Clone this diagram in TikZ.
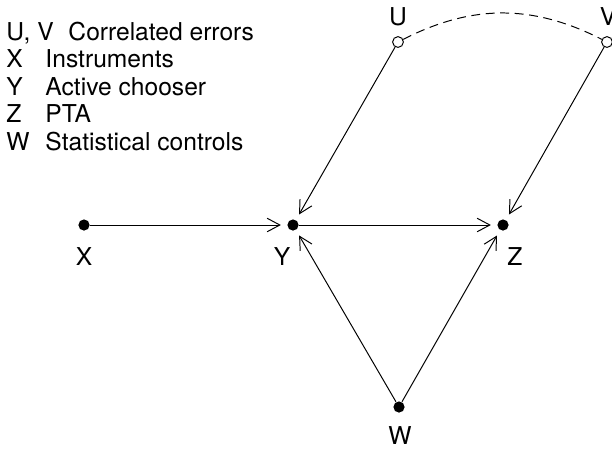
\documentclass[tikz,border=0pt]{standalone}
\usepackage{fontspec}
\setmainfont{TeX Gyre Heros}
\usetikzlibrary{arrows.meta}

\begin{document}
\begin{tikzpicture}[x=0.025cm, y=-0.025cm, line width=0.7pt,
	every node/.style={font=\fontsize{17.5}{21}\selectfont},
	>={Straight Barb[length=3.2mm, width=3.4mm]},
	dot/.style={circle, fill, inner sep=0pt, minimum size=2.8mm},
	err/.style={circle, draw, fill=white, inner sep=0pt, minimum size=2.7mm},
	key/.style={anchor=base west, inner sep=0pt},
	edge/.style={->, shorten >=1.5mm}]
	\useasboundingbox (0,0) rectangle (612,450);
	% legend
	\node[key] (kUV) at (6,40) {U, V};
	\node[key] (tUV) at (68,40) {Correlated errors};
	\node[key] (kX) at (6,67.5) {X};
	\node[key] (tX) at (45,67.5) {Instruments};
	\node[key] (kY) at (6,95) {Y};
	\node[key] (tY) at (45,95) {Active chooser};
	\node[key] (kZ) at (6,122.5) {Z};
	\node[key] (tZ) at (45,122.5) {PTA};
	\node[key] (kW) at (6,150) {W};
	\node[key] (tW) at (45,150) {Statistical controls};
	% variables
	\node[dot] (X) at (84,225) {};
	\node[dot] (Y) at (293,225) {};
	\node[dot] (Z) at (503,225) {};
	\node[dot] (W) at (399,407) {};
	\node[err] (U) at (398,42) {};
	\node[err] (V) at (607,42) {};
	\node (Xlab) at (84,257) {X};
	\node (Ylab) at (282,257) {Y};
	\node (Zlab) at (515,257) {Z};
	\node (Wlab) at (400,436) {W};
	\node (Ulab) at (398,17) {U};
	\node (Vlab) at (608,17) {V};
	% paths
	\draw[edge] (X) -- (Y);
	\draw[edge] (Y) -- (Z);
	\draw[edge] (U) -- (Y);
	\draw[edge] (V) -- (Z);
	\draw[edge] (W) -- (Y);
	\draw[edge] (W) -- (Z);
	\draw[dash pattern=on 6.3pt off 4pt] (U) to[bend left=27] (V);
\end{tikzpicture}
\end{document}
